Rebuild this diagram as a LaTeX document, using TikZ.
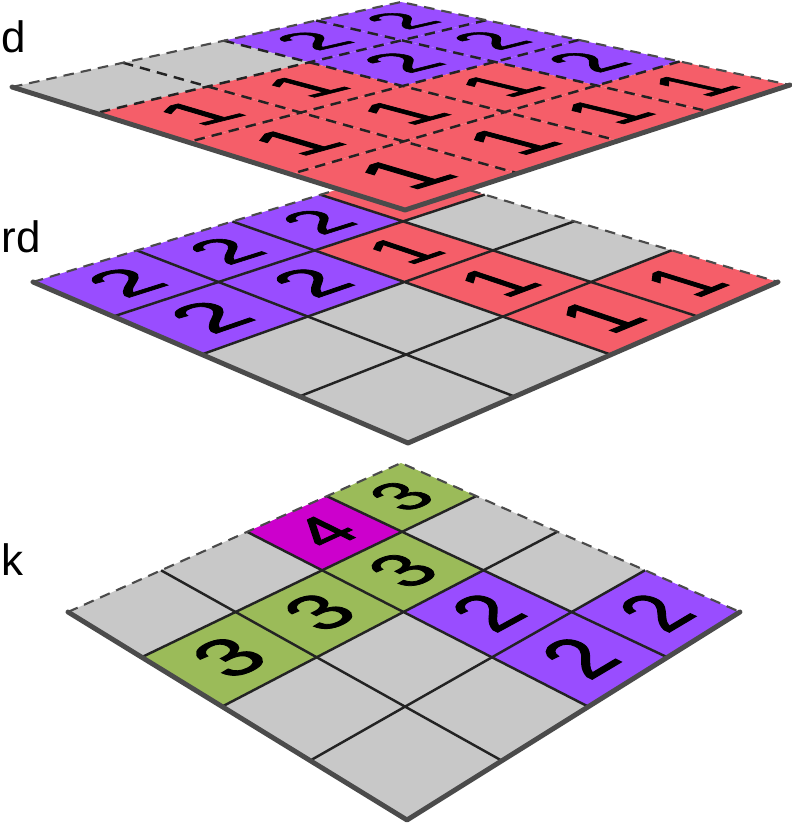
\documentclass[tikz,border=0pt]{standalone}
\usepackage{fontspec}
\setmainfont{Liberation Sans}
\newfontfamily\digitfont[FakeBold=1.6]{Liberation Sans}
\usetikzlibrary{calc}
\definecolor{cgray}{RGB}{200,200,200}
\definecolor{cpurp}{RGB}{153,77,255}
\definecolor{cred}{RGB}{245,94,105}
\definecolor{cgreen}{RGB}{155,187,89}
\definecolor{cmag}{RGB}{204,0,204}
\definecolor{cline}{RGB}{35,35,35}
\definecolor{crim}{RGB}{75,75,75}

% corners T, R, B, L of one plate (x,y each)
\newcommand\setplate[8]{%
  \pgfmathsetmacro\dxa{(#3)-(#5)}%
  \pgfmathsetmacro\dxb{(#7)-(#5)}%
  \pgfmathsetmacro\dxc{(#1)-(#3)+(#5)-(#7)}%
  \pgfmathsetmacro\dya{(#4)-(#6)}%
  \pgfmathsetmacro\dyb{(#8)-(#6)}%
  \pgfmathsetmacro\dyc{(#2)-(#4)+(#6)-(#8)}%
  \pgfmathsetmacro\hden{(\dxa)*(\dyb)-(\dxb)*(\dya)}%
  \pgfmathsetmacro\hg{((\dxc)*(\dyb)-(\dxb)*(\dyc))/(\hden)}%
  \pgfmathsetmacro\hh{((\dxa)*(\dyc)-(\dxc)*(\dya))/(\hden)}%
  \pgfmathsetmacro\ha{(#3)-(#1)+(\hg)*(#3)}%
  \pgfmathsetmacro\hb{(#7)-(#1)+(\hh)*(#7)}%
  \pgfmathsetmacro\hd{(#4)-(#2)+(\hg)*(#4)}%
  \pgfmathsetmacro\he{(#8)-(#2)+(\hh)*(#8)}%
  \def\hc{#1}\def\hf{#2}%
}
\newcommand\hpt[2]{%
  \pgfmathsetmacro\hw{(\hg)*(#1)/4+(\hh)*(#2)/4+1}%
  \pgfmathsetmacro\hx{((\ha)*(#1)/4+(\hb)*(#2)/4+\hc)/(\hw)}%
  \pgfmathsetmacro\hy{((\hd)*(#1)/4+(\he)*(#2)/4+\hf)/(\hw)}%
}
\newcommand\plate[3]{%
  \foreach \cx in {0,...,4}{\foreach \cy in {0,...,4}{\hpt{\cx}{\cy}\coordinate (#1-\cx-\cy) at (\hx,\hy);}}
  \foreach \cx/\cy/\cc/\cd in {#2}{%
    \pgfmathtruncatemacro\nx{\cx+1}\pgfmathtruncatemacro\ny{\cy+1}%
    \fill[\cc] (#1-\cx-\cy) -- (#1-\nx-\cy) -- (#1-\nx-\ny) -- (#1-\cx-\ny) -- cycle;
    \ifnum\cd>0
      \hpt{\cx+1}{\cy+.5}\let\qx\hx\let\qy\hy
      \hpt{\cx}{\cy+.5}\pgfmathsetmacro\dux{\qx-(\hx)}\pgfmathsetmacro\duy{\qy-(\hy)}%
      \hpt{\cx+.5}{\cy+1}\let\qx\hx\let\qy\hy
      \hpt{\cx+.5}{\cy}\pgfmathsetmacro\dvx{\qx-(\hx)}\pgfmathsetmacro\dvy{\qy-(\hy)}%
      \pgfmathsetmacro\ma{0-(\dvx)}\pgfmathsetmacro\mc{0-(\dux)}%
      \hpt{\cx+.5}{\cy+.5}
      \begin{scope}[shift={(\hx,\hy)}, cm={\ma,\dvy,\mc,\duy,(0,0)}]
        \node[digit] (#1-\cx-\cy-n) {\cd};
      \end{scope}
    \fi
  }
  \foreach \k in {1,2,3}{\draw[#3] (#1-\k-0) -- (#1-\k-4) (#1-0-\k) -- (#1-4-\k);}
  \draw[back] (#1-0-4) -- (#1-0-0) -- (#1-4-0);
  \draw[front] (#1-0-4) -- (#1-4-4) -- (#1-4-0);
}

\begin{document}
\begin{tikzpicture}[x=1cm, y=-1cm,
 digit/.style={font=\digitfont\fontsize{23}{23}\selectfont, inner sep=0pt, transform shape},
 lbl/.style={font=\fontsize{12.5}{14}\selectfont, inner sep=0pt, anchor=base west},
 grid/.style={draw=cline, line width=0.7pt},
 dotgrid/.style={draw=cline, line width=0.7pt, densely dashed},
 back/.style={draw=crim, line width=0.6pt, densely dashed},
 front/.style={draw=crim, line width=1.4pt, line cap=round, line join=round}]
\useasboundingbox (0,0) rectangle (7.92,8.26);
\clip (0,0) rectangle (7.92,8.26);

\setplate{4.01}{4.63}{7.40}{6.12}{4.07}{8.20}{0.68}{6.12}
\plate{bot}{0/0/cgreen/3, 1/0/cgray/0, 2/0/cgray/0, 3/0/cpurp/2,
 0/1/cmag/4, 1/1/cgreen/3, 2/1/cpurp/2, 3/1/cpurp/2,
 0/2/cgray/0, 1/2/cgreen/3, 2/2/cgray/0, 3/2/cgray/0,
 0/3/cgray/0, 1/3/cgreen/3, 2/3/cgray/0, 3/3/cgray/0}{grid}

\setplate{4.02}{1.70}{7.78}{2.82}{4.08}{4.43}{0.33}{2.82}
\plate{mid}{0/0/cred/0, 1/0/cgray/0, 2/0/cgray/0, 3/0/cred/1,
 0/1/cpurp/2, 1/1/cred/1, 2/1/cred/1, 3/1/cred/1,
 0/2/cpurp/2, 1/2/cpurp/2, 2/2/cgray/0, 3/2/cgray/0,
 0/3/cpurp/2, 1/3/cpurp/2, 2/3/cgray/0, 3/3/cgray/0}{grid}

\setplate{4.01}{0.02}{7.90}{0.85}{4.05}{2.10}{0.12}{0.87}
\plate{top}{0/0/cpurp/2, 1/0/cpurp/2, 2/0/cpurp/2, 3/0/cred/1,
 0/1/cpurp/2, 1/1/cpurp/2, 2/1/cred/1, 3/1/cred/1,
 0/2/cgray/0, 1/2/cred/1, 2/2/cred/1, 3/2/cred/1,
 0/3/cgray/0, 1/3/cred/1, 2/3/cred/1, 3/3/cred/1}{dotgrid}

\node[lbl] (toplbl) at (0.01,0.53) {d};
\node[lbl] (midlbl) at (0.01,2.53) {rd};
\node[lbl] (botlbl) at (0.01,5.75) {k};
\end{tikzpicture}
\end{document}
